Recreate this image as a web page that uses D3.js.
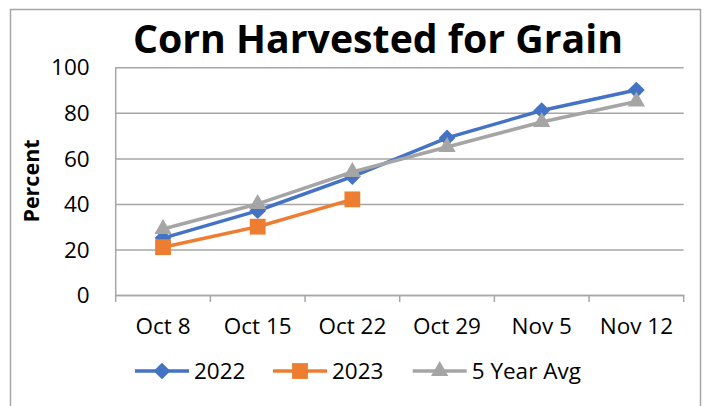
<!DOCTYPE html>
<html lang="en">
<head>
  <meta charset="utf-8">
  <title>Corn Harvested for Grain</title>
  <script src="https://d3js.org/d3.v7.min.js"></script>
  <style>
    body { margin: 0; background: white; }
    text { font-family: "Open Sans", sans-serif; fill: black; }
  </style>
</head>
<body>
<script>
  var weeks = ["Oct 8", "Oct 15", "Oct 22", "Oct 29", "Nov 5", "Nov 12"];
  var y2022 = [25, 37, 52, 69, 81, 90];
  var y2023 = [21, 30, 42];
  var avg5 = [29, 40, 54, 65, 76, 85];
  var yTicks = [0, 20, 40, 60, 80, 100];

  var width = 705, height = 406;

  var svg = d3.select("body").append("svg")
              .attr("width", width).attr("height", height);

  // outer chart border
  svg.append("rect").attr("x", 10.5).attr("y", 9.5)
     .attr("width", 690).attr("height", 420)
     .attr("fill", "white").attr("stroke", "#a6a6a6").attr("stroke-width", 1.5);

  var x = d3.scaleBand().domain(weeks).range([115.7, 683.7]);
  var y = d3.scaleLinear().domain([0, 100]).range([295, 67.3]);

  // gridlines + y labels
  var yAxis = svg.append("g").attr("transform", "translate(115.7,0)")
    .call(d3.axisLeft(y).tickValues(yTicks).tickSize(-(683.7 - 115.7)).tickPadding(26));
  yAxis.select(".domain").remove();
  yAxis.selectAll("line").attr("stroke", "#a6a6a6").attr("stroke-width", 1.5);
  yAxis.selectAll("text").attr("font-size", 22.5).attr("font-family", "Open Sans").attr("dy", "0.34em");

  // left axis line
  svg.append("line").attr("x1", 115.7).attr("x2", 115.7)
     .attr("y1", y(100)).attr("y2", y(0))
     .attr("stroke", "#a6a6a6").attr("stroke-width", 1.5);

  // x axis labels
  var xAxis = svg.append("g").attr("transform", "translate(0," + y(0) + ")")
    .call(d3.axisBottom(x).tickSize(0).tickPadding(23));
  xAxis.select(".domain").attr("stroke", "#a6a6a6").attr("stroke-width", 1.5);
  xAxis.selectAll("text").attr("font-size", 22.5).attr("font-family", "Open Sans");

  // boundary tick marks
  var bounds = weeks.map(function(w){ return x(w); }).concat([x.range()[1]]);
  svg.append("g").selectAll("line").data(bounds).enter().append("line")
     .attr("x1", function(d){ return d; }).attr("x2", function(d){ return d; })
     .attr("y1", y(0)).attr("y2", y(0) + 7)
     .attr("stroke", "#a6a6a6").attr("stroke-width", 1.5);

  // title
  svg.append("text").attr("x", 378).attr("y", 53)
     .attr("text-anchor", "middle").attr("font-size", 39).attr("font-weight", "bold")
     .attr("textLength", 490).attr("lengthAdjust", "spacingAndGlyphs")
     .text("Corn Harvested for Grain");

  // y axis title
  svg.append("text").attr("transform", "translate(39,181) rotate(-90)")
     .attr("text-anchor", "middle").attr("font-size", 21.5).attr("font-weight", "bold")
     .text("Percent");

  var series = [
    {name: "2022", values: y2022, color: "#4472C4", shape: "diamond"},
    {name: "2023", values: y2023, color: "#ED7D31", shape: "square"},
    {name: "5 Year Avg", values: avg5, color: "#A5A5A5", shape: "triangle"}
  ];

  var cx = function(d, i){ return x(weeks[i]) + x.bandwidth() / 2; };
  var line = d3.line().x(cx).y(function(d){ return y(d); });

  function marker(s) {
    if (s.shape === "square") return d3.symbol().type(d3.symbolSquare).size(250)();
    if (s.shape === "diamond") return d3.symbol().type(d3.symbolSquare).size(140)();
    return d3.symbol().type(d3.symbolTriangle).size(130)();
  }
  function markerRot(s) { return s.shape === "diamond" ? " rotate(45)" : ""; }

  series.forEach(function(s) {
    var g = svg.append("g");
    g.append("path").attr("d", line(s.values))
     .attr("fill", "none").attr("stroke", s.color).attr("stroke-width", 3.5);
    g.selectAll("path.m").data(s.values).enter().append("path")
     .attr("class", "m")
     .attr("transform", function(d, i){ return "translate(" + cx(d, i) + "," + y(d) + ")" + markerRot(s); })
     .attr("d", marker(s)).attr("fill", s.color);
  });

  // legend
  var legendX = [135, 273, 412.7];
  var leg = svg.append("g").selectAll("g").data(series).enter().append("g")
     .attr("transform", function(d, i){ return "translate(" + legendX[i] + ",371)"; });
  leg.append("line").attr("x1", 0).attr("x2", 54)
     .attr("stroke", function(d){ return d.color; }).attr("stroke-width", 3.5);
  leg.append("path").attr("transform", function(d){ return "translate(27,0)" + markerRot(d); })
     .attr("d", function(d){ return marker(d); })
     .attr("fill", function(d){ return d.color; });
  leg.append("text").attr("x", 59).attr("y", 0).attr("dy", "0.36em")
     .attr("font-size", 22.5).text(function(d){ return d.name; });
</script>
</body>
</html>
